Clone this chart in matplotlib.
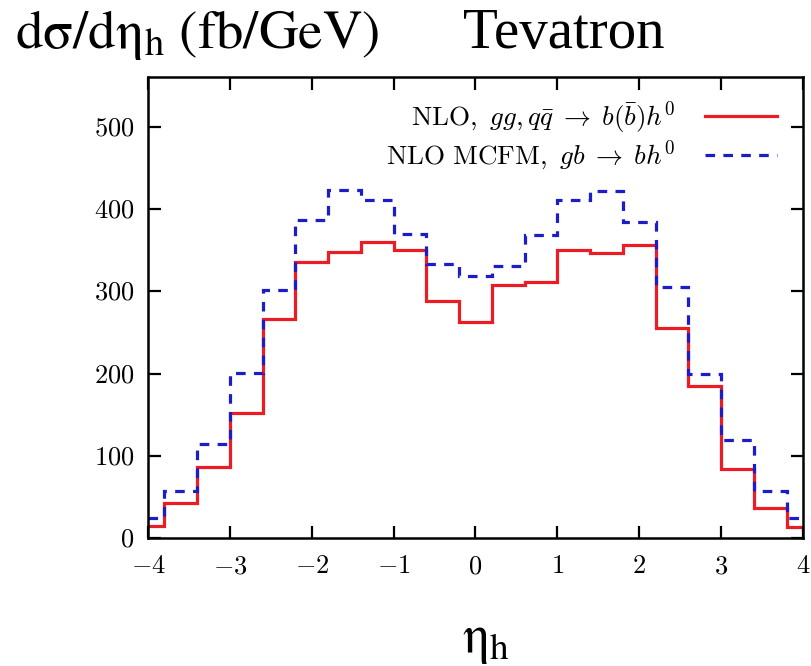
import numpy as np
import matplotlib
matplotlib.use("Agg")
import matplotlib.pyplot as plt

# Data
edges = [-4.0, -3.8, -3.4, -3.0, -2.6, -2.2, -1.8, -1.4, -1.0, -0.6, -0.2,
         0.2, 0.6, 1.0, 1.4, 1.8, 2.2, 2.6, 3.0, 3.4, 3.8, 4.0]
nlo_bbh = [14, 43, 86, 152, 267, 336, 348, 360, 351, 288, 263,
           308, 312, 351, 347, 357, 255, 185, 84, 37, 13]
mcfm_gb = [24, 57, 114, 201, 302, 387, 423, 411, 370, 334, 319,
           331, 369, 411, 422, 385, 305, 200, 119, 57, 24]
labels = [r"$\mathrm{NLO},\ gg, q\bar{q}\;\rightarrow\;b(\bar{b})h^0$",
          r"$\mathrm{NLO\ MCFM},\ gb\;\rightarrow\;bh^0\hspace{0.7}$"]
xticks = [-4, -3, -2, -1, 0, 1, 2, 3, 4]
yticks = [0, 100, 200, 300, 400, 500]

plt.rcParams["mathtext.fontset"] = "cm"
plt.rcParams["font.family"] = "Liberation Serif"

fig = plt.figure(figsize=(8.11, 6.66), dpi=100)
ax = fig.add_axes([0.1825, 0.1922, 0.8075, 0.6922])

ax.stairs(nlo_bbh, edges, baseline=None, color="#ec1c24", lw=2.3, label=labels[0])
ax.stairs(mcfm_gb, edges, baseline=None, color="#1c1cc8", lw=2.3,
          linestyle=(0, (3.0, 2.6)), label=labels[1])

ax.set_xlim(-4, 4)
ax.set_ylim(0, 561)
ax.set_xticks(xticks, labels=[f"${t}$" for t in xticks])
ax.set_yticks(yticks, labels=[f"${t}$" for t in yticks])
ax.tick_params(direction="in", length=9, width=1.6, labelsize=19,
               top=True, right=True)
ax.tick_params(axis="x", pad=13)
ax.tick_params(axis="y", pad=10)
for s in ax.spines.values():
    s.set_linewidth(1.8)

leg = ax.legend(loc="upper right", frameon=False, markerfirst=False,
                fontsize=19.5, handlelength=2.65, handletextpad=1.1,
                labelspacing=0.12, borderaxespad=0, borderpad=0,
                bbox_to_anchor=(0.960, 0.952))

# Labels placed like the original slide
fig.text(0.018, 0.928, r"$\mathrm{d\sigma/d\eta_h\ (fb/GeV)}$", fontsize=39.5,
         math_fontfamily="stix", ha="left", va="baseline")
fig.text(0.571, 0.928, "Tevatron", fontsize=41, ha="left", va="baseline")
fig.text(0.599, 0.021, r"$\mathrm{\eta_h}$", fontsize=38,
         math_fontfamily="stix", ha="center", va="baseline")

fig.savefig("out.png", dpi=100)
